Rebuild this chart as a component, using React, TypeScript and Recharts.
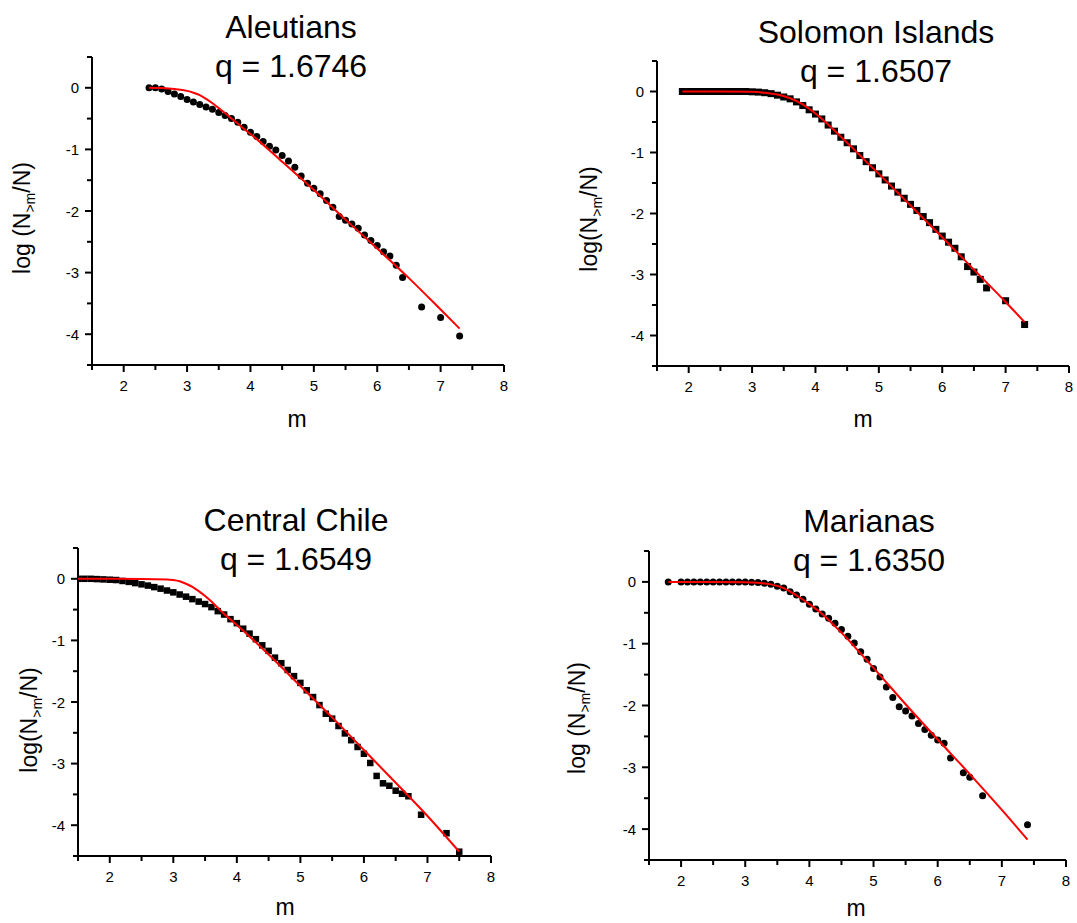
import React from "react";
import { ComposedChart, Scatter, Line, XAxis, YAxis } from "recharts";

const FONT = "'Liberation Sans', Arial, Helvetica, sans-serif";

// ---- Aleutians (circles) ----
const aleutM = [
  2.4, 2.5, 2.6, 2.7, 2.8, 2.9, 3.0, 3.1, 3.2, 3.3, 3.4, 3.5, 3.6, 3.7, 3.8, 3.9,
  4.0, 4.1, 4.2, 4.3, 4.4, 4.5, 4.6, 4.7, 4.8, 4.9, 5.0, 5.1, 5.2, 5.3, 5.4, 5.5,
  5.6, 5.7, 5.8, 5.9, 6.0, 6.1, 6.2, 6.3, 6.4, 6.7, 7.0, 7.3,
];
const aleutLog = [
  0, 0, -0.02, -0.06, -0.1, -0.14, -0.19, -0.23, -0.27, -0.31, -0.35, -0.4, -0.45, -0.5, -0.56, -0.64,
  -0.72, -0.79, -0.87, -0.95, -1.01, -1.1, -1.19, -1.29, -1.43, -1.55, -1.63, -1.72, -1.83, -1.94, -2.09, -2.15,
  -2.21, -2.28, -2.39, -2.48, -2.56, -2.66, -2.73, -2.88, -3.08, -3.56, -3.73, -4.03,
];
const aleutFitM = [2.4, 2.6, 2.8, 3.0, 3.1, 3.2, 3.3, 3.4, 3.5, 3.6, 3.7, 3.8, 3.9, 4.0, 4.5, 5.0, 5.5, 6.0, 6.5, 7.0, 7.3];
const aleutFitLog = [0, -0.005, -0.02, -0.05, -0.08, -0.12, -0.18, -0.25, -0.33, -0.41, -0.5, -0.58, -0.67, -0.75, -1.2, -1.66, -2.14, -2.61, -3.09, -3.6, -3.91];

// ---- Solomon Islands (squares) ----
const solomonM = [
  1.9, 2.0, 2.1, 2.2, 2.3, 2.4, 2.5, 2.6, 2.7, 2.8, 2.9, 3.0, 3.1, 3.2, 3.3, 3.4,
  3.5, 3.6, 3.7, 3.8, 3.9, 4.0, 4.1, 4.2, 4.3, 4.4, 4.5, 4.6, 4.7, 4.8, 4.9, 5.0,
  5.1, 5.2, 5.3, 5.4, 5.5, 5.6, 5.7, 5.8, 5.9, 6.0, 6.1, 6.2, 6.3, 6.4, 6.5, 6.6,
  6.7, 7.0, 7.3,
];
const solomonLog = [
  0, 0, 0, 0, 0, 0, 0, 0, 0, 0, 0, -0.005, -0.01, -0.02, -0.035, -0.06,
  -0.09, -0.12, -0.17, -0.23, -0.3, -0.37, -0.45, -0.55, -0.65, -0.75, -0.84, -0.94, -1.05, -1.15, -1.25, -1.35,
  -1.45, -1.55, -1.65, -1.75, -1.85, -1.95, -2.05, -2.15, -2.26, -2.37, -2.47, -2.57, -2.71, -2.87, -2.96, -3.08,
  -3.22, -3.43, -3.82,
];
const solomonFitM = [1.9, 2.5, 3.0, 3.2, 3.4, 3.6, 3.8, 4.0, 4.2, 4.4, 4.6, 4.8, 5.0, 5.5, 6.0, 6.5, 7.0, 7.3];
const solomonFitLog = [0, 0, -0.005, -0.02, -0.05, -0.11, -0.21, -0.36, -0.54, -0.74, -0.94, -1.15, -1.35, -1.87, -2.39, -2.92, -3.45, -3.78];

// ---- Central Chile (squares) ----
const chileM = [
  1.5, 1.6, 1.7, 1.8, 1.9, 2.0, 2.1, 2.2, 2.3, 2.4, 2.5, 2.6, 2.7, 2.8, 2.9, 3.0,
  3.1, 3.2, 3.3, 3.4, 3.5, 3.6, 3.7, 3.8, 3.9, 4.0, 4.1, 4.2, 4.3, 4.4, 4.5, 4.6,
  4.7, 4.8, 4.9, 5.0, 5.1, 5.2, 5.3, 5.4, 5.5, 5.6, 5.7, 5.8, 5.9, 6.0, 6.1, 6.2,
  6.3, 6.4, 6.5, 6.6, 6.7, 6.9, 7.3, 7.5,
];
const chileLog = [
  0, 0, 0, -0.005, -0.01, -0.015, -0.02, -0.035, -0.05, -0.07, -0.09, -0.11, -0.135, -0.16, -0.19, -0.22,
  -0.255, -0.29, -0.33, -0.37, -0.41, -0.46, -0.525, -0.58, -0.655, -0.72, -0.81, -0.89, -0.98, -1.08, -1.17, -1.28,
  -1.37, -1.48, -1.58, -1.69, -1.81, -1.92, -2.05, -2.19, -2.27, -2.39, -2.51, -2.62, -2.73, -2.84, -2.99, -3.2,
  -3.32, -3.36, -3.44, -3.49, -3.53, -3.83, -4.13, -4.43,
];
const chileFitM = [1.5, 2.5, 2.9, 3.0, 3.1, 3.2, 3.3, 3.4, 3.5, 3.6, 3.7, 3.8, 3.9, 4.0, 4.5, 5.0, 5.5, 6.0, 6.5, 7.0, 7.5];
const chileFitLog = [0, -0.003, -0.01, -0.02, -0.04, -0.08, -0.13, -0.2, -0.28, -0.37, -0.47, -0.57, -0.66, -0.75, -1.23, -1.74, -2.25, -2.78, -3.31, -3.85, -4.43];

// ---- Marianas (circles) ----
const marianasM = [
  1.8, 2.0, 2.1, 2.2, 2.3, 2.4, 2.5, 2.6, 2.7, 2.8, 2.9, 3.0, 3.1, 3.2, 3.3, 3.4,
  3.5, 3.6, 3.7, 3.8, 3.9, 4.0, 4.1, 4.2, 4.3, 4.4, 4.5, 4.6, 4.7, 4.8, 4.9, 5.0,
  5.1, 5.2, 5.3, 5.4, 5.5, 5.6, 5.7, 5.8, 5.9, 6.0, 6.1, 6.2, 6.4, 6.5, 6.7, 7.4,
];
const marianasLog = [
  0, 0, 0, 0, 0, 0, 0, 0, 0, 0, 0, 0, -0.005, -0.01, -0.02, -0.04,
  -0.07, -0.1, -0.16, -0.21, -0.28, -0.36, -0.44, -0.52, -0.59, -0.67, -0.77, -0.88, -0.99, -1.13, -1.25, -1.4,
  -1.54, -1.7, -1.87, -2.02, -2.09, -2.17, -2.29, -2.39, -2.48, -2.56, -2.61, -2.85, -3.09, -3.16, -3.46, -3.93,
];
const marianasFitM = [1.8, 2.5, 3.0, 3.2, 3.4, 3.6, 3.8, 4.0, 4.2, 4.4, 4.6, 4.8, 5.0, 5.5, 6.0, 6.5, 7.0, 7.4];
const marianasFitLog = [0, 0, -0.005, -0.015, -0.04, -0.1, -0.22, -0.36, -0.52, -0.72, -0.93, -1.16, -1.39, -1.98, -2.55, -3.11, -3.69, -4.17];

const xTicks = [1.5, 2, 2.5, 3, 3.5, 4, 4.5, 5, 5.5, 6, 6.5, 7, 7.5, 8];
const yTicks = [0.5, 0, -0.5, -1, -1.5, -2, -2.5, -3, -3.5, -4, -4.5];

const zip = (ms: number[], vs: number[]) => ms.map((m, i) => ({ m, v: vs[i] }));

const XTick = (props: any) => {
  const { x, y, payload } = props;
  const major = Number.isInteger(payload.value);
  return (
    <g>
      <line x1={x} x2={x} y1={y} y2={y + (major ? 7 : 5)} stroke="#000" strokeWidth={2} />
      {major && (
        <text x={x} y={y + 26} textAnchor="middle" fontSize={15} fontFamily={FONT} fill="#000">
          {payload.value}
        </text>
      )}
    </g>
  );
};

const YTick = (props: any) => {
  const { x, y, payload } = props;
  const major = Number.isInteger(payload.value);
  return (
    <g>
      <line x1={x} x2={x - (major ? 7 : 5)} y1={y} y2={y} stroke="#000" strokeWidth={2} />
      {major && (
        <text x={x - 13} y={y + 5.5} textAnchor="end" fontSize={15} fontFamily={FONT} fill="#000">
          {payload.value}
        </text>
      )}
    </g>
  );
};

const Circle = (props: any) => <circle cx={props.cx} cy={props.cy} r={3.5} fill="#000" />;
const makeSquare = (s: number) => (props: any) => (
  <rect x={props.cx - s / 2} y={props.cy - s / 2} width={s} height={s} fill="#000" />
);

type PanelProps = {
  left: number;
  top: number;
  w: number;
  h: number;
  points: { m: number; v: number }[];
  fit: { m: number; v: number }[];
  square?: number;
};

const YW = 60;
const XH = 60;
const MT = 10;
const MR = 10;

function Panel({ left, top, w, h, points, fit, square }: PanelProps) {
  return (
    <div style={{ position: "absolute", left: left - YW, top: top - MT }}>
      <ComposedChart
        width={YW + w + MR}
        height={MT + h + XH}
        margin={{ top: MT, right: MR, left: 0, bottom: 0 }}
      >
        <XAxis
          type="number"
          dataKey="m"
          domain={[1.5, 8]}
          ticks={xTicks}
          interval={0}
          allowDataOverflow
          height={XH}
          tickLine={false}
          tickSize={0}
          tickMargin={0}
          tick={<XTick />}
          axisLine={{ stroke: "#000", strokeWidth: 2 }}
        />
        <YAxis
          type="number"
          dataKey="v"
          domain={[-4.5, 0.5]}
          ticks={yTicks}
          interval={0}
          allowDataOverflow
          width={YW}
          tickLine={false}
          tickSize={0}
          tickMargin={0}
          tick={<YTick />}
          axisLine={{ stroke: "#000", strokeWidth: 2 }}
        />
        <Scatter
          data={points}
          dataKey="v"
          shape={square ? makeSquare(square) : Circle}
          zIndex={500}
          isAnimationActive={false}
        />
        <Line
          data={fit}
          dataKey="v"
          type="monotone"
          stroke="#ff0000"
          strokeWidth={2}
          dot={false}
          activeDot={false}
          zIndex={700}
          isAnimationActive={false}
        />
      </ComposedChart>
    </div>
  );
}

const YLabel = ({ x, y, spaced }: { x: number; y: number; spaced: boolean }) => (
  <text
    transform={`translate(${x},${y}) rotate(-90)`}
    textAnchor="middle"
    fontSize={23}
    fontFamily={FONT}
    fill="#000"
  >
    {spaced ? "log (N" : "log(N"}
    <tspan fontSize={14} dy={5}>&gt;m</tspan>
    <tspan dy={-5}>/N)</tspan>
  </text>
);

const Title = ({ x, y, name, q }: { x: number; y: number; name: string; q: string }) => (
  <g fontFamily={FONT} fontSize={32} fill="#000" textAnchor="middle">
    <text x={x} y={y}>{name}</text>
    <text x={x} y={y + 39}>{q}</text>
  </g>
);

export default function App() {
  return (
    <div style={{ position: "absolute", left: 0, top: 0, width: 1077, height: 923, background: "#fff" }}>
      <Panel left={92} top={57} w={412} h={308} points={zip(aleutM, aleutLog)} fit={zip(aleutFitM, aleutFitLog)} />
      <Panel left={657} top={61} w={412} h={305} points={zip(solomonM, solomonLog)} fit={zip(solomonFitM, solomonFitLog)} square={7} />
      <Panel left={78} top={548} w={413} h={308} points={zip(chileM, chileLog)} fit={zip(chileFitM, chileFitLog)} square={6.5} />
      <Panel left={649} top={551} w={417} h={309} points={zip(marianasM, marianasLog)} fit={zip(marianasFitM, marianasFitLog)} />
      <svg width={1077} height={923} style={{ position: "absolute", left: 0, top: 0, pointerEvents: "none" }}>
        <Title x={291} y={38} name="Aleutians" q="q = 1.6746" />
        <Title x={876} y={43} name="Solomon Islands" q="q = 1.6507" />
        <Title x={296} y={531} name="Central Chile" q="q = 1.6549" />
        <Title x={869} y={532} name="Marianas" q="q = 1.6350" />
        <YLabel x={30} y={218} spaced />
        <YLabel x={597} y={219} spaced={false} />
        <YLabel x={37} y={720} spaced={false} />
        <YLabel x={585} y={718} spaced />
        <g fontFamily={FONT} fontSize={23} fill="#000" textAnchor="middle">
          <text x={297} y={427}>m</text>
          <text x={863} y={427}>m</text>
          <text x={285} y={915}>m</text>
          <text x={856} y={916}>m</text>
        </g>
      </svg>
    </div>
  );
}
